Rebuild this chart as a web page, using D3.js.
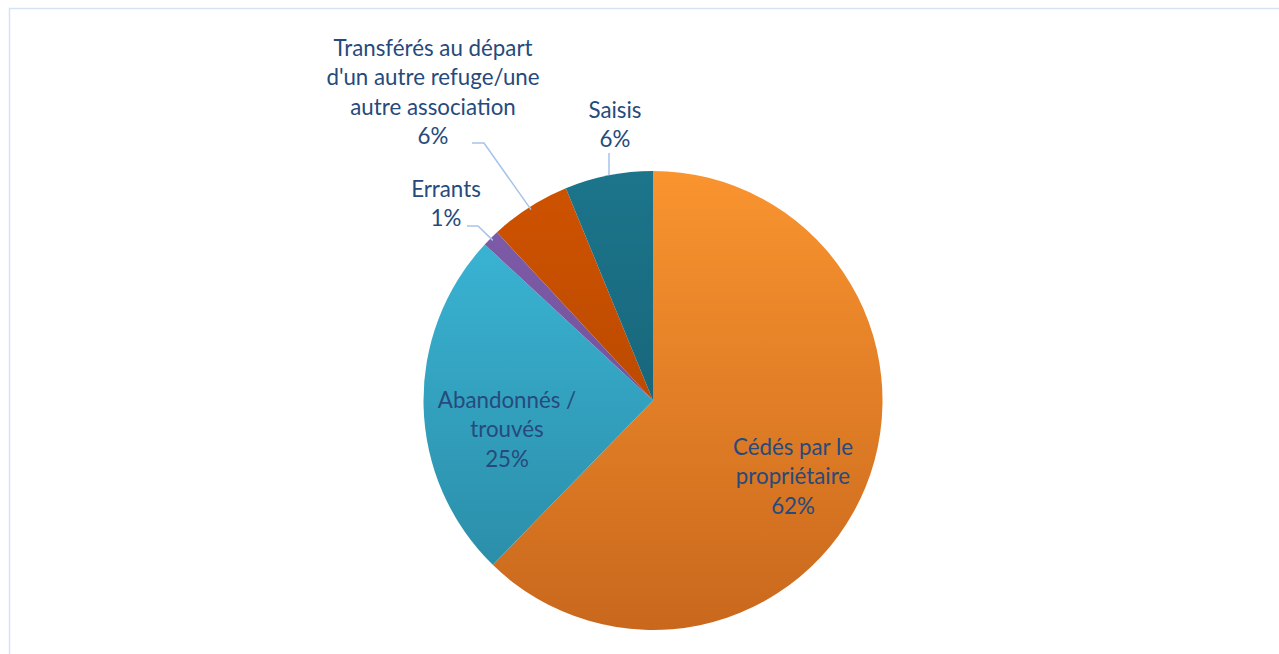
<!DOCTYPE html>
<html><head><meta charset="utf-8">
<script src="https://cdn.jsdelivr.net/npm/d3@7"></script>
<style>body{margin:0;background:#fff}svg{display:block}</style>
</head><body>
<svg id="c" width="1279" height="654"></svg>
<script>
const categories = ["Cédés par le propriétaire","Abandonnés / trouvés","Errants","Transférés au départ d'un autre refuge/une autre association","Saisis"];
const values = [62.3, 24.6, 1.2, 5.7, 6.2];
const percentLabels = ["62%","25%","1%","6%","6%"];
const labelLines = [["Cédés par le","propriétaire"],["Abandonnés /","trouvés"],["Errants"],["Transférés au départ","d'un autre refuge/une","autre association"],["Saisis"]];
const colorsTop = ["#f9942f","#3dbbdc","#7e5ca9","#cf5300","#1c758b"];
const colorsBottom = ["#c9681d","#2887a1","#6c4c95","#a94100","#14596c"];

const svg = d3.select("#c");
svg.append("rect").attr("x",9.5).attr("y",8.5).attr("width",1290).attr("height",680)
  .attr("fill","none").attr("stroke","#d5e2f3").attr("stroke-width",1.5);

const cx = 653, cy = 400.5, r = 229.5;
const defs = svg.append("defs");
colorsTop.forEach((c,i)=>{
  const g = defs.append("linearGradient").attr("id","g"+i).attr("gradientUnits","userSpaceOnUse")
    .attr("x1",0).attr("y1",-r).attr("x2",0).attr("y2",r);
  g.append("stop").attr("offset","0%").attr("stop-color",c);
  g.append("stop").attr("offset","100%").attr("stop-color",colorsBottom[i]);
});

const pie = d3.pie().sort(null).value(d=>d);
const arcs = pie(values);
const arc = d3.arc().innerRadius(0).outerRadius(r);
const gp = svg.append("g").attr("transform",`translate(${cx},${cy})`);
gp.selectAll("path").data(arcs).join("path").attr("d",arc)
  .attr("fill",(d,i)=>`url(#g${i})`);

const labelPos = [
  {x:793, y:447},
  {x:507, y:400},
  {x:446, y:189},
  {x:433, y:48},
  {x:615, y:110}
];
const lh = 29.5;
const txt = svg.append("g").attr("font-family","Lato, 'Open Sans', sans-serif").attr("font-size",22.3)
  .attr("fill","#264a7c").attr("text-anchor","middle");
labelPos.forEach((p,i)=>{
  const lines = labelLines[i].concat([percentLabels[i]]);
  lines.forEach((l,j)=>{
    txt.append("text").attr("x",p.x).attr("y",p.y + j*lh).attr("dy","0.35em").text(l);
  });
});

const leaders = [
  {i:2, pts:[[467,226],[478,226]]},
  {i:3, pts:[[472,143],[484,143]]},
  {i:4, pts:[[609,153]]}
];
leaders.forEach(L=>{
  const a = arcs[L.i];
  const mid = (a.startAngle + a.endAngle)/2;
  let end;
  if (L.i===4) end = [609, cy - Math.sqrt(r*r - (609-cx)*(609-cx))];
  else end = [cx + Math.sin(mid)*(r-3), cy - Math.cos(mid)*(r-3)];
  const pts = L.pts.concat([end]);
  svg.append("path").attr("d", d3.line()(pts)).attr("fill","none")
    .attr("stroke","#a6c3e8").attr("stroke-width",1.5);
});
</script>
</body></html>
